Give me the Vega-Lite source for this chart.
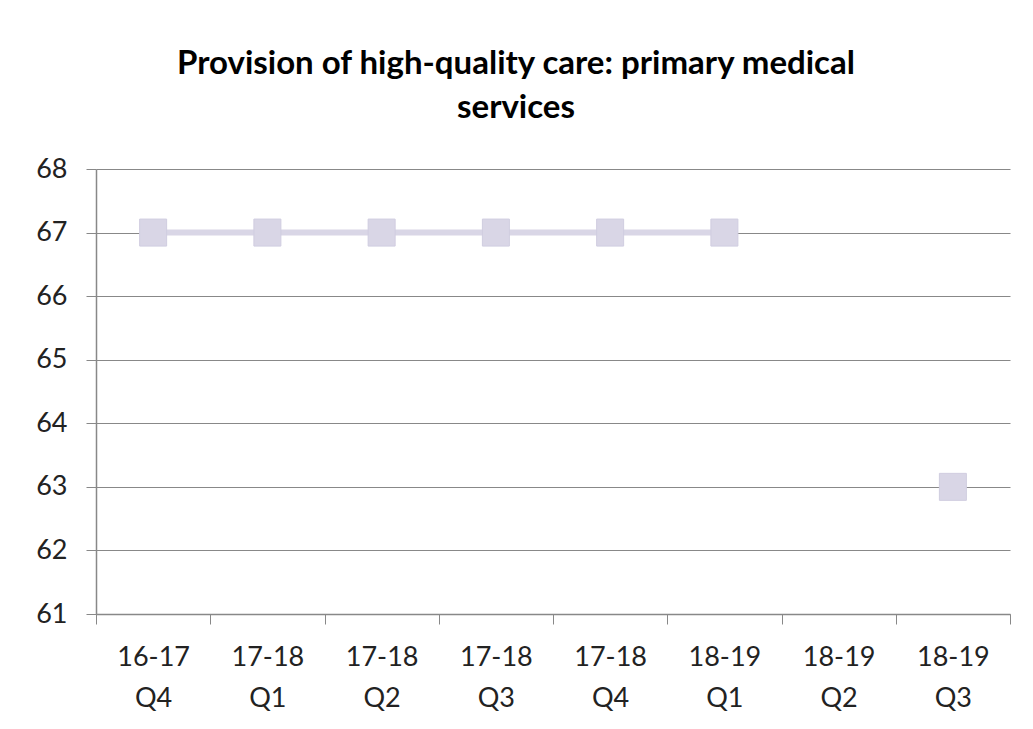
{
  "$schema": "https://vega.github.io/schema/vega-lite/v6.json",
  "autosize": "none",
  "width": 914,
  "height": 445,
  "padding": {"left": 96, "top": 169, "right": 23, "bottom": 115},
  "background": "white",
  "title": {
    "text": ["Provision of high-quality care: primary medical", "services"],
    "font": "Lato",
    "fontSize": 33,
    "fontWeight": "bold",
    "color": "#000000",
    "lineHeight": 44,
    "anchor": "middle",
    "dx": -37,
    "offset": 30
  },
  "data": {
    "values": [
      {"quarter": "16-17 Q4", "value": 67},
      {"quarter": "17-18 Q1", "value": 67},
      {"quarter": "17-18 Q2", "value": 67},
      {"quarter": "17-18 Q3", "value": 67},
      {"quarter": "17-18 Q4", "value": 67},
      {"quarter": "18-19 Q1", "value": 67},
      {"quarter": "18-19 Q2", "value": null},
      {"quarter": "18-19 Q3", "value": 63}
    ]
  },
  "encoding": {
    "x": {
      "field": "quarter",
      "type": "nominal",
      "sort": null,
      "scale": {"domain": ["16-17 Q4", "17-18 Q1", "17-18 Q2", "17-18 Q3", "17-18 Q4", "18-19 Q1", "18-19 Q2", "18-19 Q3"], "paddingInner": 0, "paddingOuter": 0},
      "axis": {
        "title": null,
        "labelAngle": 0,
        "labelExpr": "isValid(datum.value) ? split(datum.value, ' ') : ''",
        "labelFont": "Lato",
        "labelFontSize": 27,
        "labelColor": "#222222",
        "labelLineHeight": 41,
        "labelPadding": 20,
        "tickBand": "extent",
        "tickSize": 10,
        "tickColor": "#888888",
        "domainColor": "#888888",
        "domainWidth": 1.5,
        "grid": false
      }
    },
    "y": {
      "field": "value",
      "type": "quantitative",
      "scale": {"domain": [61, 68], "zero": false, "nice": false},
      "axis": {
        "title": null,
        "values": [61, 62, 63, 64, 65, 66, 67, 68],
        "format": "d",
        "labelFont": "Lato",
        "labelFontSize": 27,
        "labelColor": "#222222",
        "labelPadding": 19,
        "tickSize": 10,
        "tickColor": "#888888",
        "domainColor": "#888888",
        "domainWidth": 1.5,
        "grid": true,
        "gridColor": "#888888",
        "gridWidth": 1.2
      }
    }
  },
  "layer": [
    {
      "mark": {"type": "line", "color": "#d9d6e6", "strokeWidth": 6, "invalid": "break-paths-show-domains"}
    },
    {
      "mark": {"type": "point", "shape": "square", "filled": true, "size": 729, "color": "#d9d6e6", "opacity": 1, "stroke": "#d0cde0", "strokeWidth": 1}
    }
  ],
  "config": {
    "view": {"stroke": null}
  }
}
